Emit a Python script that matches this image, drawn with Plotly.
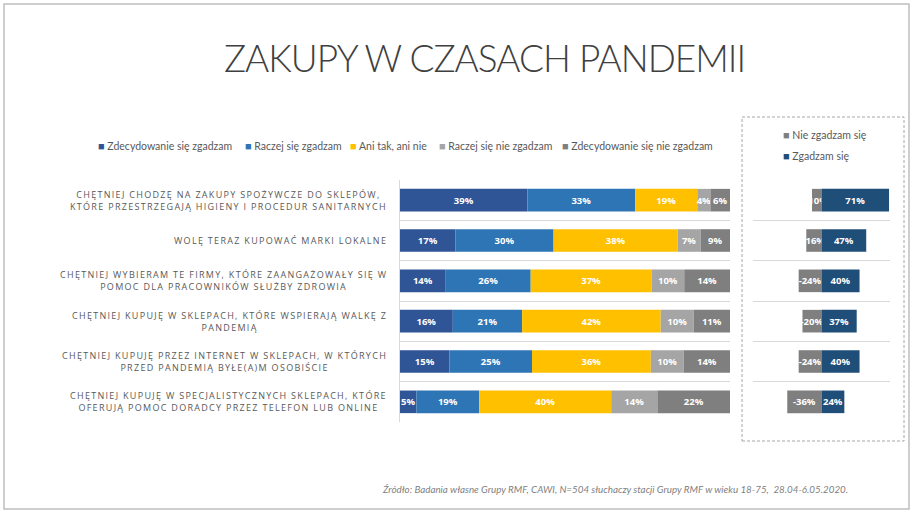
import plotly.graph_objects as go

# ---------------- data ----------------
categories = [
    "CHĘTNIEJ CHODZĘ NA ZAKUPY SPOŻYWCZE DO SKLEPÓW,<br>KTÓRE PRZESTRZEGAJĄ HIGIENY I PROCEDUR SANITARNYCH",
    "WOLĘ TERAZ KUPOWAĆ MARKI LOKALNE",
    "CHĘTNIEJ WYBIERAM TE FIRMY, KTÓRE ZAANGAŻOWAŁY SIĘ W<br>POMOC DLA PRACOWNIKÓW SŁUŻBY ZDROWIA",
    "CHĘTNIEJ KUPUJĘ W SKLEPACH, KTÓRE WSPIERAJĄ WALKĘ Z<br>PANDEMIĄ",
    "CHĘTNIEJ KUPUJĘ PRZEZ INTERNET W SKLEPACH, W KTÓRYCH<br>PRZED PANDEMIĄ BYŁE(A)M OSOBIŚCIE",
    "CHĘTNIEJ KUPUJĘ W SPECJALISTYCZNYCH SKLEPACH, KTÓRE<br>OFERUJĄ POMOC DORADCY PRZEZ TELEFON LUB ONLINE",
]
series_names = ["Zdecydowanie się zgadzam", "Raczej się zgadzam", "Ani tak, ani nie",
                "Raczej się nie zgadzam", "Zdecydowanie się nie zgadzam"]
strongly_agree = [39, 17, 14, 16, 15, 5]
rather_agree = [33, 30, 26, 21, 25, 19]
neutral = [19, 38, 37, 42, 36, 40]
rather_disagree = [4, 7, 10, 10, 10, 14]
strongly_disagree = [6, 9, 14, 11, 14, 22]

summary_names = ["Nie zgadzam się", "Zgadzam się"]
net_disagree = [-10, -16, -24, -20, -24, -36]
net_agree = [71, 47, 40, 37, 40, 24]

title_text = "ZAKUPY W CZASACH PANDEMII"
source_text = ("Źródło: Badania własne Grupy RMF, CAWI, N=504 słuchaczy stacji Grupy RMF "
               "w wieku 18-75,  28.04-6.05.2020.")

# ---------------- style ----------------
W, H = 915, 514
series_colors = ["#2F5597", "#2E75B6", "#FFC000", "#A5A5A5", "#7F7F7F"]
summary_colors = ["#7F7F7F", "#1F4E79"]
grid_color = "#D9D9D9"
label_color = "#595959"
bar_font = dict(family="Open Sans", size=9.5, color="white", weight="bold")


def px_x(px):
    return px / W


def px_y(py):
    return 1 - py / H


series_values = [strongly_agree, rather_agree, neutral, rather_disagree, strongly_disagree]
row_totals = [sum(col) for col in zip(*series_values)]

fig = go.Figure()

# 100% stacked main chart
for name, vals, color in zip(series_names, series_values, series_colors):
    shares = [v * 100.0 / t for v, t in zip(vals, row_totals)]
    fig.add_trace(go.Bar(
        y=categories, x=shares, orientation="h", name=name,
        marker=dict(color=color, line=dict(width=0)),
        text=vals, texttemplate="%{text}%", textposition="inside",
        insidetextanchor="middle", textangle=0, textfont=bar_font,
        width=0.56, xaxis="x", yaxis="y", showlegend=False, hoverinfo="skip",
    ))

# net summary chart
for name, vals, color in zip(summary_names, [net_disagree, net_agree], summary_colors):
    fig.add_trace(go.Bar(
        y=categories, x=vals, orientation="h", name=name,
        marker=dict(color=color, line=dict(width=0)),
        text=vals, texttemplate="%{text}%", textposition="inside",
        insidetextanchor="middle", textangle=0, textfont=bar_font,
        width=0.56, xaxis="x2", yaxis="y2", showlegend=False, hoverinfo="skip",
    ))

ydom = [px_y(422), px_y(180)]

annotations = []

# category labels (centered lines, block right-aligned)
for cat in categories:
    lines = cat.split("<br>")
    txt = "<br>".join("<span style='letter-spacing:1.3px'>%s</span>" % ln for ln in lines)
    annotations.append(dict(
        text=txt, x=px_x(389), xref="paper", y=cat, yref="y",
        xanchor="right", yanchor="middle", align="center", showarrow=False,
        font=dict(family="Open Sans", size=9, color=label_color),
    ))

# main legend
legend_x = [96, 243, 348, 437, 560]
for name, color, lx in zip(series_names, series_colors, legend_x):
    annotations.append(dict(
        text="<span style='color:%s;font-size:11px'>■</span> %s" % (color, name),
        x=px_x(lx), xref="paper", y=px_y(145), yref="paper",
        xanchor="left", yanchor="middle", showarrow=False,
        font=dict(family="Lato", size=10.5, color=label_color),
    ))

# summary legend
for name, color, ly in zip(summary_names, summary_colors, [135, 155]):
    annotations.append(dict(
        text="<span style='color:%s;font-size:11px'>■</span> %s" % (color, name),
        x=px_x(781), xref="paper", y=px_y(ly), yref="paper",
        xanchor="left", yanchor="middle", showarrow=False,
        font=dict(family="Lato", size=10.5, color=label_color),
    ))

# title
annotations.append(dict(
    text="<span style='letter-spacing:-1px'>%s</span>" % title_text,
    x=px_x(484), xref="paper", y=px_y(57), yref="paper",
    xanchor="center", yanchor="middle", showarrow=False,
    font=dict(family="Lato", size=37, color="#404040", weight=300),
))

# source
annotations.append(dict(
    text="<i>%s</i>" % source_text, x=px_x(380), xref="paper", y=px_y(489), yref="paper",
    xanchor="left", yanchor="middle", showarrow=False,
    font=dict(family="Lato", size=9.8, color="#7F7F7F"),
))

shapes = [
    # outer frame
    dict(type="rect", xref="paper", yref="paper", x0=px_x(4), x1=px_x(909),
         y0=px_y(509), y1=px_y(4), line=dict(color="#BFBFBF", width=1.5)),
    # dashed box around summary chart
    dict(type="rect", xref="paper", yref="paper", x0=px_x(742), x1=px_x(904),
         y0=px_y(441), y1=px_y(117), line=dict(color="#A6A6A6", width=1, dash="3px,2px")),
]

fig.update_layout(
    width=W, height=H,
    margin=dict(l=0, r=0, t=0, b=0),
    paper_bgcolor="white", plot_bgcolor="white",
    barmode="relative", bargap=0.44,
    uniformtext=dict(minsize=9.5, mode="show"),
    showlegend=False,
    xaxis=dict(domain=[px_x(400), px_x(730)], range=[0, 100], visible=False,
               anchor="y", fixedrange=True),
    yaxis=dict(domain=ydom, type="category", categoryorder="array",
               categoryarray=categories, autorange="reversed",
               showticklabels=False, ticks="", tickson="boundaries",
               showgrid=True, gridcolor=grid_color, gridwidth=1,
               showline=True, linecolor=grid_color, linewidth=1,
               zeroline=False, anchor="x"),
    xaxis2=dict(domain=[px_x(753), px_x(890)], range=[-72, 72], visible=False,
                anchor="y2", fixedrange=True),
    yaxis2=dict(domain=ydom, type="category", categoryorder="array",
                categoryarray=categories, autorange="reversed",
                showticklabels=False, ticks="", tickson="boundaries",
                showgrid=True, gridcolor=grid_color, gridwidth=1,
                showline=False, zeroline=False, anchor="x2"),
    annotations=annotations,
    shapes=shapes,
)

fig.write_html(
    "out.html",
    config={"displayModeBar": False},
    post_script="document.body.style.margin='0';document.body.style.overflow='hidden';",
)
